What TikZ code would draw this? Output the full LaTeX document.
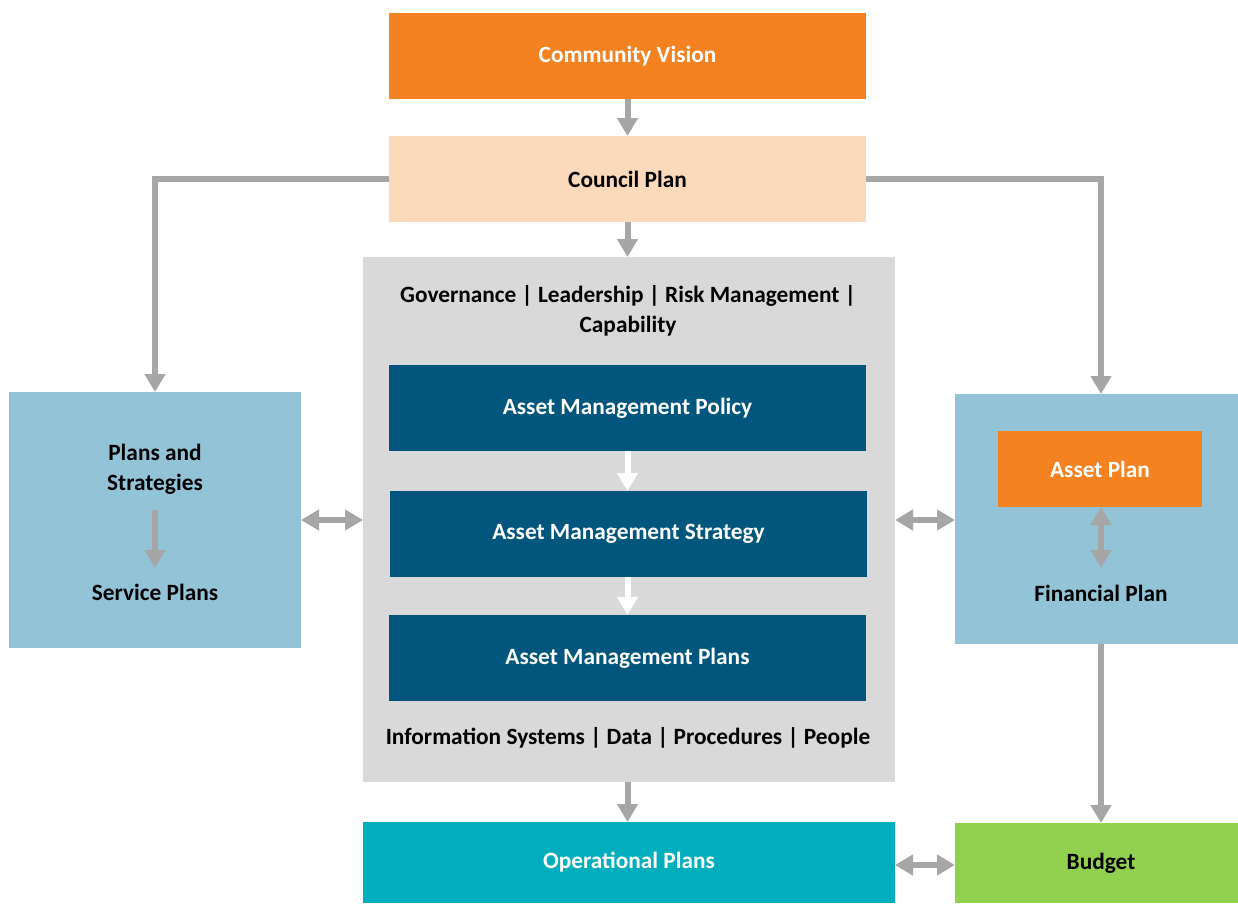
\documentclass[tikz,border=0pt]{standalone}
\usepackage{fontspec}
\setmainfont{Carlito}
\usetikzlibrary{arrows.meta}
\definecolor{cvorange}{HTML}{F58220}
\definecolor{peach}{HTML}{FBD9BA}
\definecolor{panel}{HTML}{D9D9D9}
\definecolor{dblue}{HTML}{00567D}
\definecolor{lblue}{HTML}{92C3D6}
\definecolor{teal}{HTML}{00AEBD}
\definecolor{lgreen}{HTML}{92D050}
\definecolor{arr}{HTML}{A6A6A6}
\tikzset{
  sz/.style 2 args={minimum width=#1*0.75pt, minimum height=#2*0.75pt},
  box/.style={inner sep=0pt, outer sep=0pt, align=center, font=\bfseries\fontsize{17.5}{22}\selectfont},
  lbl/.style={inner sep=0pt, align=center, font=\bfseries\fontsize{17.5}{22.5}\selectfont},
  conn/.style={draw=arr, line width=4.5pt, -{Triangle[length=13.5pt,width=15pt]}},
  dconn/.style={draw=arr, line width=4.5pt, {Triangle[length=13.5pt,width=15pt]}-{Triangle[length=13.5pt,width=15pt]}},
  wconn/.style={draw=white, line width=4.5pt, -{Triangle[length=13.5pt,width=15pt]}},
}
\begin{document}
\begin{tikzpicture}[x=0.75pt,y=-0.75pt]
\useasboundingbox (0,0) rectangle (1238,904);
% boxes
\node[box, sz={477}{86}, fill=cvorange, text=white] (cv) at (627.5,56) {Community Vision};
\node[box, sz={477}{86}, fill=peach] (cp) at (627.5,179) {Council Plan};
\node[box, sz={532}{525}, fill=panel] (am) at (629,519.5) {};
\node[lbl] (gov) at (628,311) {Governance | Leadership | Risk Management |\\Capability};
\node[box, sz={477}{86}, fill=dblue, text=white] (pol) at (627.5,408) {Asset Management Policy};
\node[box, sz={477}{86}, fill=dblue, text=white] (str) at (628.5,534) {Asset Management Strategy};
\node[box, sz={477}{86}, fill=dblue, text=white] (amp) at (627.5,658) {Asset Management Plans};
\node[lbl] (info) at (628,738) {Information Systems | Data | Procedures | People};
\node[box, sz={532}{81}, fill=teal, text=white] (op) at (629,862.5) {Operational Plans};
\node[box, sz={283}{80}, fill=lgreen] (bud) at (1096.5,863) {\hspace*{6.75pt}Budget};
\node[box, sz={292}{256}, fill=lblue] (left) at (155,520) {};
\node[lbl] (ps) at (155,469) {Plans and\\Strategies};
\node[lbl] (sp) at (155,592) {Service Plans};
\node[box, sz={283}{250}, fill=lblue] (right) at (1096.5,519) {};
\node[box, sz={204}{76}, fill=cvorange, text=white] (ap) at (1100,469) {Asset Plan};
\node[lbl] (fp) at (1101,593) {Financial Plan};
% coordinates
\coordinate (lc) at (155,179);
\coordinate (rc) at (1101,179);
\coordinate (fptop) at (1101,568);
\coordinate (sptop) at (155,568);
% connectors
\draw[conn] (cv.south) -- (cp.north);
\draw[conn] (cp.south) -- (cp.south |- am.north);
\draw[conn] (cp.west) -- (lc) -- (left.north -| lc);
\draw[conn] (cp.east) -- (rc) -- (right.north -| rc);
\draw[conn] (ps.south |- 0,510) -- (sptop);
\draw[dconn] (left.east |- 0,520) -- (am.west |- 0,520);
\draw[dconn] (am.east |- 0,520) -- (right.west |- 0,520);
\draw[dconn] (ap.south -| fptop) -- (fptop);
\draw[conn] (right.south -| rc) -- (bud.north -| rc);
\draw[conn] (am.south -| cp.south) -- (op.north -| cp.south);
\draw[dconn] (op.east |- 0,865) -- (bud.west |- 0,865);
\draw[wconn] (pol.south -| cp.south) -- (str.north -| cp.south);
\draw[wconn] (str.south -| cp.south) -- (amp.north -| cp.south);
\end{tikzpicture}
\end{document}
